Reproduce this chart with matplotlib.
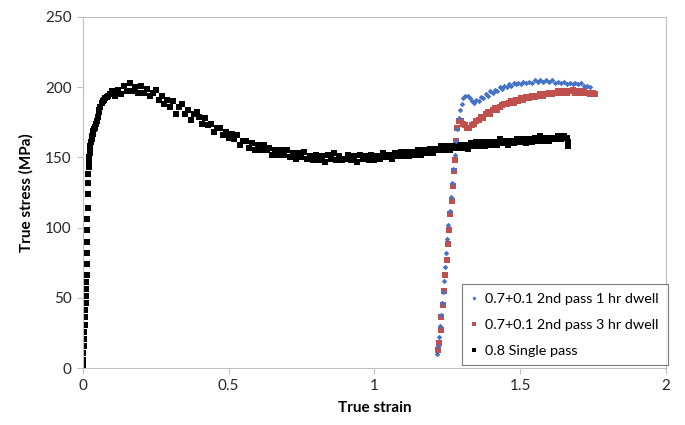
import matplotlib
matplotlib.use("Agg")
import matplotlib.pyplot as plt

plt.rcParams['font.family'] = ['Lato', 'DejaVu Sans']

# 0.8 single pass (black)
strain_single = [0.000, 0.001, 0.002, 0.003, 0.004, 0.005, 0.006, 0.007, 0.008, 0.009,
                 0.010, 0.011, 0.012, 0.013, 0.0135, 0.014, 0.0145, 0.015, 0.0155, 0.016,
                 0.017, 0.018, 0.019, 0.020, 0.021, 0.022, 0.023, 0.024, 0.026, 0.028,
                 0.030, 0.032, 0.034, 0.036, 0.038, 0.040, 0.042, 0.045, 0.048, 0.051,
                 0.054, 0.057, 0.060, 0.064, 0.068, 0.072, 0.077, 0.082, 0.087, 0.093,
                 0.10, 0.11, 0.12, 0.13, 0.14, 0.15, 0.16, 0.17, 0.18, 0.19,
                 0.20, 0.21, 0.22, 0.23, 0.24, 0.25, 0.26, 0.27, 0.28, 0.29,
                 0.30, 0.31, 0.32, 0.33, 0.34, 0.35, 0.36, 0.37, 0.38, 0.39,
                 0.40, 0.41, 0.42, 0.43, 0.44, 0.45, 0.46, 0.47, 0.48, 0.49,
                 0.50, 0.51, 0.52, 0.53, 0.54, 0.55, 0.56, 0.57, 0.58, 0.59,
                 0.60, 0.61, 0.62, 0.63, 0.64, 0.65, 0.66, 0.67, 0.68, 0.69,
                 0.70, 0.71, 0.72, 0.73, 0.74, 0.75, 0.76, 0.77, 0.78, 0.79,
                 0.80, 0.81, 0.82, 0.83, 0.84, 0.85, 0.86, 0.87, 0.88, 0.89,
                 0.90, 0.91, 0.92, 0.93, 0.94, 0.95, 0.96, 0.97, 0.98, 0.99,
                 1.00, 1.01, 1.02, 1.03, 1.04, 1.05, 1.06, 1.07, 1.08, 1.09,
                 1.10, 1.11, 1.12, 1.13, 1.14, 1.15, 1.16, 1.17, 1.18, 1.19,
                 1.20, 1.21, 1.22, 1.23, 1.24, 1.25, 1.26, 1.27, 1.28, 1.29,
                 1.30, 1.31, 1.32, 1.33, 1.34, 1.35, 1.36, 1.37, 1.38, 1.39,
                 1.40, 1.41, 1.42, 1.43, 1.44, 1.45, 1.46, 1.47, 1.48, 1.49,
                 1.50, 1.51, 1.52, 1.53, 1.54, 1.55, 1.56, 1.57, 1.58, 1.59,
                 1.60, 1.61, 1.62, 1.63, 1.64, 1.65, 1.66, 1.665, 1.665]
stress_single = [2, 6, 11, 16, 21, 26, 31, 36, 41, 46,
                 51, 56, 61, 66, 74, 82, 90, 98, 106, 114,
                 124, 132, 138, 143, 147, 150, 153, 155, 158, 161,
                 163, 165, 167, 169, 170, 171, 172, 174, 176, 179,
                 182, 184, 186, 189, 190, 191, 192, 193, 194, 195,
                 197, 194, 198, 195, 201, 197, 203, 197, 200, 196,
                 201, 196, 199, 194, 196, 198, 191, 194, 188, 191,
                 186, 190, 181, 186, 188, 181, 184, 177, 181, 182,
                 179, 174, 178, 173, 174, 168, 171, 171, 166, 168,
                 164, 167, 163, 166, 159, 162, 162, 157, 160, 155,
                 159, 155, 159, 155, 157, 152, 155, 152, 155, 152,
                 155, 150, 153, 149, 153, 150, 154, 149, 151, 148,
                 152, 148, 151, 147, 152, 149, 153, 148, 151, 148,
                 149, 152, 148, 151, 147, 152, 149, 151, 148, 152,
                 148, 151, 149, 153, 150, 152, 149, 153, 151, 154,
                 151, 154, 151, 154, 152, 155, 152, 155, 153, 156,
                 153, 156, 155, 158, 155, 158, 155, 158, 157, 159,
                 157, 159, 156, 160, 158, 161, 158, 161, 158, 161,
                 159, 161, 159, 163, 160, 162, 159, 162, 160, 163,
                 161, 163, 160, 163, 161, 164, 162, 165, 162, 164,
                 162, 164, 163, 165, 163, 165, 164, 161, 158]

# 0.7+0.1 2nd pass 1 hr dwell (blue)
strain_1hr = [1.215, 1.218, 1.222, 1.226, 1.229, 1.232, 1.236, 1.240, 1.243, 1.247,
              1.250, 1.254, 1.258, 1.262, 1.266, 1.270, 1.275, 1.280, 1.285, 1.290,
              1.295, 1.300, 1.305, 1.312, 1.320, 1.328, 1.335, 1.342, 1.350, 1.358,
              1.366, 1.374, 1.382, 1.390, 1.398, 1.406, 1.414, 1.422, 1.430, 1.438,
              1.446, 1.454, 1.462, 1.470, 1.478, 1.486, 1.494, 1.502, 1.510, 1.520,
              1.530, 1.540, 1.550, 1.560, 1.570, 1.580, 1.590, 1.600, 1.610, 1.620,
              1.630, 1.640, 1.650, 1.660, 1.670, 1.680, 1.690, 1.700, 1.710, 1.720,
              1.730, 1.740]
stress_1hr = [10, 16, 22, 30, 38, 46, 54, 62, 72, 82,
              92, 102, 112, 122, 132, 142, 152, 162, 170, 178,
              184, 188, 192, 194, 194, 192, 190, 189, 191, 190,
              193, 192, 195, 194, 197, 196, 198, 197, 200, 199,
              201, 200, 202, 201, 203, 202, 203, 202, 204, 203,
              204, 203, 205, 204, 205, 204, 205, 204, 205, 203,
              204, 203, 204, 202, 203, 202, 203, 202, 203, 201,
              201, 200]

# 0.7+0.1 2nd pass 3 hr dwell (red)
strain_3hr = [1.219, 1.222, 1.227, 1.230, 1.234, 1.238, 1.243, 1.248, 1.252, 1.257,
              1.261, 1.265, 1.270, 1.274, 1.277, 1.280, 1.285, 1.290, 1.296, 1.303,
              1.310, 1.318, 1.326, 1.334, 1.342, 1.350, 1.358, 1.366, 1.374, 1.382,
              1.390, 1.398, 1.406, 1.414, 1.422, 1.430, 1.438, 1.446, 1.454, 1.462,
              1.470, 1.478, 1.486, 1.494, 1.502, 1.510, 1.520, 1.530, 1.540, 1.550,
              1.560, 1.570, 1.580, 1.590, 1.600, 1.610, 1.620, 1.630, 1.640, 1.650,
              1.660, 1.670, 1.680, 1.690, 1.700, 1.710, 1.720, 1.730, 1.740, 1.750,
              1.756]
stress_3hr = [13, 18, 27, 36, 45, 55, 66, 77, 88, 98,
              110, 119, 130, 140, 148, 162, 171, 176, 176, 174,
              173, 171, 171, 173, 174, 176, 177, 179, 178, 181,
              182, 181, 184, 185, 184, 186, 187, 188, 188, 189,
              190, 189, 191, 190, 192, 191, 193, 192, 194, 193,
              194, 195, 194, 195, 196, 195, 196, 197, 196, 197,
              196, 197, 198, 196, 197, 196, 197, 196, 195, 196,
              195]

labels = ['0.7+0.1 2nd pass 1 hr dwell', '0.7+0.1 2nd pass 3 hr dwell', '0.8 Single pass']

fig = plt.figure(figsize=(6.85, 4.25), dpi=100)
ax = fig.add_axes([0.121, 0.134, 0.851, 0.826])

ax.plot(strain_1hr, stress_1hr, 'D', color='#4472C4', markersize=2.8, markeredgewidth=0,
        label=labels[0], zorder=3)
ax.plot(strain_3hr, stress_3hr, 's', color='#C0504D', markersize=4.6, markeredgewidth=0,
        label=labels[1], zorder=2)
ax.plot(strain_single, stress_single, 's', color='black', markersize=4.6, markeredgewidth=0,
        label=labels[2], zorder=2)

ax.set_xlim(0, 2)
ax.set_ylim(0, 250)
ax.set_xticks([0, 0.5, 1, 1.5, 2])
ax.set_xticklabels(['0', '0.5', '1', '1.5', '2'])
ax.set_yticks([0, 50, 100, 150, 200, 250])

for s in ax.spines.values():
    s.set_color('#bfbfbf')
    s.set_linewidth(0.8)
ax.tick_params(direction='out', length=4, width=0.8, color='#bfbfbf',
               labelsize=11, labelcolor='#262626', pad=4)

ax.set_xlabel('True strain', fontsize=11, fontweight='bold', labelpad=6)
ax.set_ylabel('True stress (MPa)', fontsize=11, fontweight='bold', labelpad=8)

leg = ax.legend(loc='lower right', bbox_to_anchor=(1.003, 0.008), borderaxespad=0,
                fontsize=10.4, frameon=True, fancybox=False, markerscale=0.75,
                handlelength=0.5, handletextpad=0.5, labelspacing=0.95,
                borderpad=0.6)
leg.get_frame().set_edgecolor('#595959')
leg.get_frame().set_linewidth(0.8)

fig.savefig('out.png', dpi=100)
